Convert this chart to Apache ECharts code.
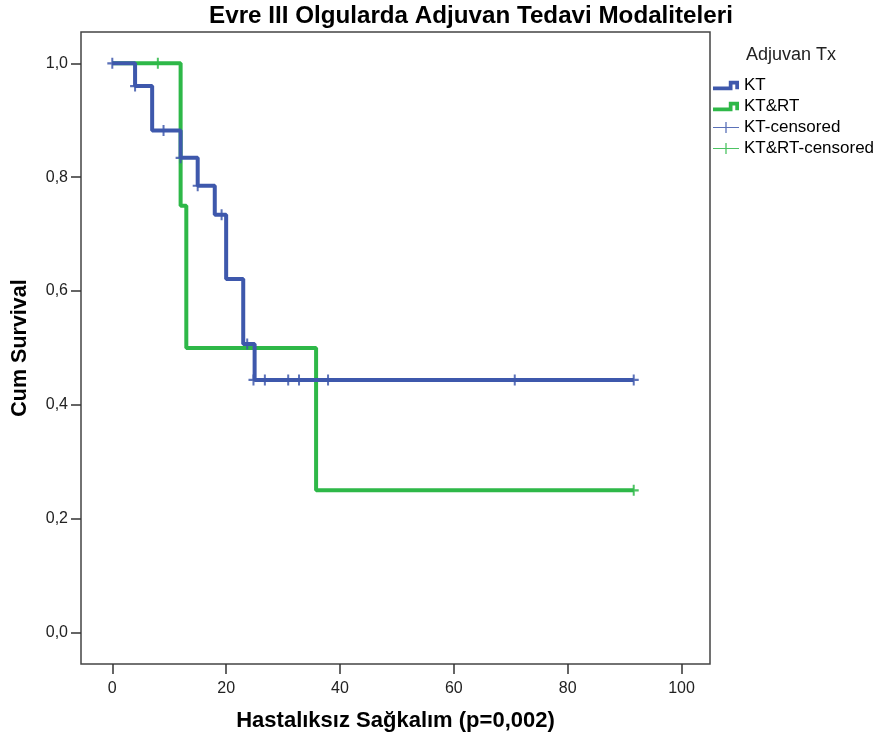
<!DOCTYPE html>
<html>
<head>
<meta charset="utf-8">
<script src="https://cdn.jsdelivr.net/npm/echarts@6/dist/echarts.min.js"></script>
<style>html,body{margin:0;padding:0;background:#fff}#c{width:880px;height:740px}</style>
</head>
<body>
<div id="c"></div>
<script>
// Kaplan-Meier step data (time, cumulative survival)
var ktTimes = [0, 4, 7, 12, 15, 18, 20, 23, 25, 91.6];
var ktSurv  = [1.0, 0.96, 0.882, 0.834, 0.785, 0.734, 0.621, 0.507, 0.444, 0.444];
var ktCensorTimes = [0, 4, 9, 12, 15, 19.2, 23.7, 24.8, 26.8, 30.9, 32.8, 37.9, 70.7, 91.6];
var ktCensorSurv  = [1.0, 0.96, 0.882, 0.834, 0.785, 0.734, 0.507, 0.444, 0.444, 0.444, 0.444, 0.444, 0.444, 0.444];

var krtTimes = [0, 12, 13, 35.8, 91.6];
var krtSurv  = [1.0, 0.75, 0.5, 0.25, 0.25];
var krtCensorTimes = [8, 91.6];
var krtCensorSurv  = [1.0, 0.25];

var xTicks = [0, 20, 40, 60, 80, 100];
var yTicks = [0, 0.2, 0.4, 0.6, 0.8, 1.0];

var BLUE = '#3E58AC', GREEN = '#2EB848';
var FONT = '"Liberation Sans", Arial, sans-serif';

function zip(a, b) { return a.map(function (v, i) { return [v, b[i]]; }); }

var plusSym = 'path://M4,0H6V4H10V6H6V10H4V6H0V4H4Z';
var stepIcon = 'path://M0,6H17V0H28V9H24V4H21V10H0Z';
var censIcon = 'path://M0,5.4H28V6.6H0ZM13.3,0H14.7V12H13.3Z';

var chart = echarts.init(document.getElementById('c'), null, { renderer: 'canvas' });
chart.setOption({
  animation: false,
  backgroundColor: '#fff',
  textStyle: { fontFamily: FONT },
  graphic: [
    { type: 'text', x: 471, y: 4, style: { text: 'Evre III Olgularda Adjuvan Tedavi Modaliteleri', align: 'center', fontSize: 24.2, fontWeight: 'bold', fill: '#000', fontFamily: FONT } },
    { type: 'text', x: 746, y: 46, style: { text: 'Adjuvan Tx', fontSize: 18, fill: '#222', fontFamily: FONT } }
  ],
  legend: {
    orient: 'vertical',
    left: 708,
    top: 72,
    itemWidth: 26,
    itemHeight: 12,
    itemGap: 4,
    textStyle: { fontSize: 17, color: '#000', fontFamily: FONT },
    selectedMode: false,
    data: [
      { name: 'KT', icon: stepIcon },
      { name: 'KT&RT', icon: stepIcon },
      { name: 'KT-censored', icon: censIcon },
      { name: 'KT&RT-censored', icon: censIcon }
    ]
  },
  grid: {
    left: 81, right: 170, top: 32, bottom: 76,
    outerBoundsMode: 'none', containLabel: false,
    show: true, borderColor: '#444', borderWidth: 1.5, backgroundColor: 'transparent'
  },
  xAxis: {
    type: 'value', min: -5.5, max: 105,
    name: 'Hastalıksız Sağkalım (p=0,002)', nameLocation: 'middle', nameGap: 46,
    nameTextStyle: { fontSize: 22, fontWeight: 'bold', color: '#000', fontFamily: FONT },
    axisLine: { show: false, onZero: false },
    splitLine: { show: false },
    axisTick: { show: true, inside: false, customValues: xTicks, length: 10, lineStyle: { color: '#333', width: 1.5 } },
    axisLabel: { customValues: xTicks, margin: 17, fontSize: 16, color: '#222', fontFamily: FONT }
  },
  yAxis: {
    type: 'value', min: -0.055, max: 1.055,
    name: 'Cum Survival', nameLocation: 'middle', nameGap: 50, nameRotate: 90,
    nameTextStyle: { fontSize: 21.5, fontWeight: 'bold', color: '#000', fontFamily: FONT },
    axisLine: { show: false, onZero: false },
    splitLine: { show: false },
    axisTick: { show: true, inside: false, customValues: yTicks, length: 10, lineStyle: { color: '#333', width: 1.5 } },
    axisLabel: { customValues: yTicks, margin: 13, fontSize: 16, color: '#222', fontFamily: FONT,
      formatter: function (v) { return v.toFixed(1).replace('.', ','); } }
  },
  series: [
    { name: 'KT&RT', type: 'line', step: 'end', data: zip(krtTimes, krtSurv), color: GREEN,
      showSymbol: false, lineStyle: { color: GREEN, width: 4 }, z: 2 },
    { name: 'KT', type: 'line', step: 'end', data: zip(ktTimes, ktSurv), color: BLUE,
      showSymbol: false, lineStyle: { color: BLUE, width: 4 }, z: 3 },
    { name: 'KT-censored', type: 'scatter', data: zip(ktCensorTimes, ktCensorSurv), color: BLUE,
      symbol: plusSym, symbolSize: [10, 11], itemStyle: { color: BLUE, opacity: 0.85 }, z: 4 },
    { name: 'KT&RT-censored', type: 'scatter', data: zip(krtCensorTimes, krtCensorSurv), color: GREEN,
      symbol: plusSym, symbolSize: [10, 11], itemStyle: { color: GREEN, opacity: 0.85 }, z: 4 }
  ]
});
</script>
</body>
</html>
